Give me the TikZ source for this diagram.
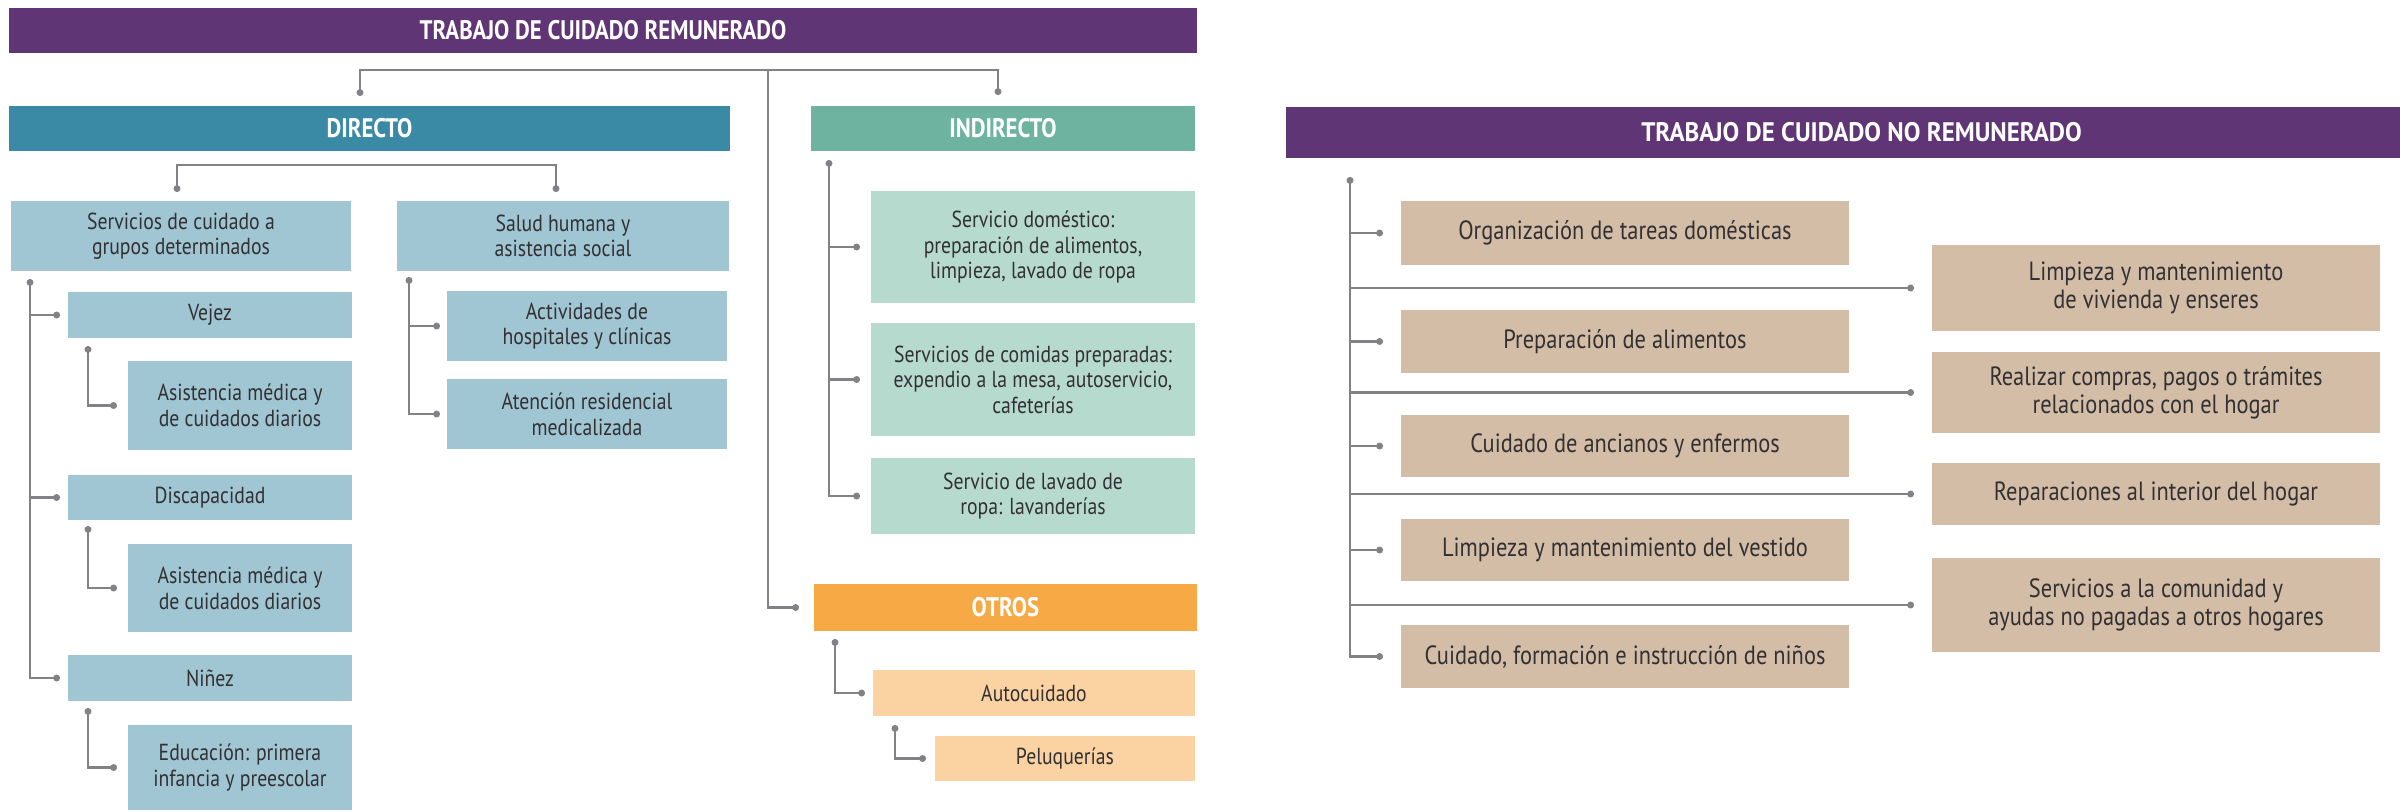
\documentclass[tikz,border=0pt]{standalone}
\usepackage{fontspec}
\setmainfont{PT Sans}[FakeStretch=0.85]
\newfontfamily\hdfont{PT Sans}[FakeStretch=0.85]
\newfontfamily\hdfontw{PT Sans}[FakeStretch=0.93]
\usetikzlibrary{arrows.meta}
\definecolor{cpurple}{RGB}{95,53,117}
\definecolor{cdir}{RGB}{58,138,166}
\definecolor{cind}{RGB}{109,179,160}
\definecolor{cotr}{RGB}{247,169,70}
\definecolor{lblue}{RGB}{160,197,211}
\definecolor{lgreen}{RGB}{183,218,207}
\definecolor{lorange}{RGB}{251,211,163}
\definecolor{ltan}{RGB}{211,189,166}
\definecolor{cline}{RGB}{130,130,134}
\definecolor{ctext}{RGB}{50,48,50}
\tikzset{
  base/.style={rectangle, inner sep=0pt, align=center, draw=none},
  hdr/.style={base, text=white, font=\hdfont\bfseries\fontsize{13.4}{15}\selectfont},
  hdrw/.style={base, text=white, font=\hdfontw\bfseries\fontsize{13.4}{15}\selectfont},
  lbox/.style={base, text=ctext, font=\fontsize{11.6}{12.8}\selectfont},
  rbox/.style={base, text=ctext, font=\fontsize{13.2}{14}\selectfont},
  conn/.style={draw=cline, line width=1.1pt},
}
\newcommand{\mkbox}[7]{\node[#6, minimum width={(#4-#2)*0.5pt}, minimum height={(#5-#3)*0.5pt}] (#1) at ({(#2+#4)/2},{(#3+#5)/2}) {#7};}
\begin{document}
\begin{tikzpicture}[x=0.5pt,y=-0.5pt,>={Circle[length=3.4pt]}]
\useasboundingbox (0,0) rectangle (2400,811);
\clip (0,0) rectangle (2400,811);
\fill[white] (0,0) rectangle (2400,811);
% ---------- REMUNERADO ----------
\mkbox{remun}{9}{8}{1197}{53}{hdr,fill=cpurple}{TRABAJO DE CUIDADO REMUNERADO}
\mkbox{directo}{9}{106}{730}{151}{hdr,fill=cdir}{DIRECTO}
\mkbox{indirecto}{811}{106}{1195}{151}{hdr,fill=cind}{INDIRECTO}
\mkbox{servicios}{11}{201}{351}{271}{lbox,fill=lblue}{Servicios de cuidado a\\grupos determinados}
\mkbox{salud}{397}{201}{729}{271}{lbox,fill=lblue}{Salud humana y\\asistencia social}
\mkbox{vejez}{68}{292}{352}{338}{lbox,fill=lblue}{Vejez}
\mkbox{asis1}{128}{361}{352}{450}{lbox,fill=lblue}{Asistencia médica y\\de cuidados diarios}
\mkbox{discap}{68}{475}{352}{520}{lbox,fill=lblue}{Discapacidad}
\mkbox{asis2}{128}{544}{352}{632}{lbox,fill=lblue}{Asistencia médica y\\de cuidados diarios}
\mkbox{ninez}{68}{655}{352}{701}{lbox,fill=lblue}{Niñez}
\mkbox{educ}{128}{725}{352}{810}{lbox,fill=lblue}{Educación: primera\\infancia y preescolar}
\mkbox{activ}{447}{291}{727}{361}{lbox,fill=lblue}{Actividades de\\hospitales y clínicas}
\mkbox{atenc}{447}{379}{727}{449}{lbox,fill=lblue}{Atención residencial\\medicalizada}
\mkbox{domest}{871}{191}{1195}{303}{lbox,fill=lgreen}{Servicio doméstico:\\preparación de alimentos,\\limpieza, lavado de ropa}
\mkbox{comidas}{871}{323}{1195}{436}{lbox,fill=lgreen}{Servicios de comidas preparadas:\\expendio a la mesa, autoservicio,\\cafeterías}
\mkbox{lavado}{871}{458}{1195}{534}{lbox,fill=lgreen}{Servicio de lavado de\\ropa: lavanderías}
\mkbox{otros}{814}{584}{1197}{631}{hdr,fill=cotr}{OTROS}
\mkbox{autoc}{873}{670}{1195}{716}{lbox,fill=lorange}{Autocuidado}
\mkbox{pelu}{935}{736}{1195}{781}{lbox,fill=lorange}{Peluquerías}
% ---------- NO REMUNERADO ----------
\mkbox{noremun}{1286}{107}{2437}{158}{hdrw,fill=cpurple}{TRABAJO DE CUIDADO NO REMUNERADO}
\mkbox{org}{1401}{201}{1849}{265}{rbox,fill=ltan}{Organización de tareas domésticas}
\mkbox{prep}{1401}{310}{1849}{373}{rbox,fill=ltan}{Preparación de alimentos}
\mkbox{ancianos}{1401}{415}{1849}{477}{rbox,fill=ltan}{Cuidado de ancianos y enfermos}
\mkbox{vestido}{1401}{519}{1849}{581}{rbox,fill=ltan}{Limpieza y mantenimiento del vestido}
\mkbox{ninos}{1401}{625}{1849}{688}{rbox,fill=ltan}{Cuidado, formación e instrucción de niños}
\mkbox{vivienda}{1932}{245}{2380}{331}{rbox,fill=ltan}{Limpieza y mantenimiento\\de vivienda y enseres}
\mkbox{compras}{1932}{352}{2380}{433}{rbox,fill=ltan}{Realizar compras, pagos o trámites\\relacionados con el hogar}
\mkbox{repar}{1932}{463}{2380}{525}{rbox,fill=ltan}{Reparaciones al interior del hogar}
\mkbox{comun}{1932}{558}{2380}{652}{rbox,fill=ltan}{Servicios a la comunidad y\\ayudas no pagadas a otros hogares}
% ---------- connectors ----------
\coordinate (tj) at (768,70);
\coordinate (dDir) at (360,96);
\coordinate (dInd) at (998,95);
\draw[conn,<->] (dDir) |- (tj) -| (dInd);
\draw[conn,->] (tj) |- ([xshift=-7.3pt]otros.west);
\coordinate (dSv) at (177,192);
\coordinate (dSa) at (556,192);
\coordinate (dmid) at (366,165);
\draw[conn,<->] (dSv) |- (dmid) -| (dSa);
\coordinate (sT) at (30,279);
\draw[conn,<->] (sT) |- ([xshift=-3.8pt]ninez.west);
\draw[conn,->] (sT |- vejez.west) -- ([xshift=-3.8pt]vejez.west);
\draw[conn,->] (sT |- discap.west) -- ([xshift=-3.8pt]discap.west);
\coordinate (vT) at (88,346);
\draw[conn,<->] (vT) |- ([xshift=-5.3pt]asis1.west);
\coordinate (dT) at (88,526);
\draw[conn,<->] (dT) |- ([xshift=-5.3pt]asis2.west);
\coordinate (nT) at (88,708);
\draw[conn,<->] (nT) |- ([xshift=-5.3pt]educ.west);
\coordinate (hT) at (409,277);
\draw[conn,<->] (hT) |- ([xshift=-3.3pt]atenc.west);
\draw[conn,->] (hT |- activ.west) -- ([xshift=-3.3pt]activ.west);
\coordinate (iT) at (829,160);
\draw[conn,<->] (iT) |- ([xshift=-5.3pt]lavado.west);
\draw[conn,->] (iT |- domest.west) -- ([xshift=-5.3pt]domest.west);
\draw[conn,->] (iT |- comidas.west) -- ([xshift=-5.3pt]comidas.west);
\coordinate (oT) at (835,639);
\draw[conn,<->] (oT) |- ([xshift=-3.8pt]autoc.west);
\coordinate (aT) at (895,725);
\draw[conn,<->] (aT) |- ([xshift=-4.3pt]pelu.west);
\coordinate (rT) at (1350,177);
\draw[conn,<->] (rT) |- ([xshift=-8.8pt]ninos.west);
\foreach \b in {org,prep,ancianos,vestido,vivienda,compras,repar,comun}
  \draw[conn,->] (rT |- \b.west) -- ([xshift=-8.8pt]\b.west);
\end{tikzpicture}
\end{document}
